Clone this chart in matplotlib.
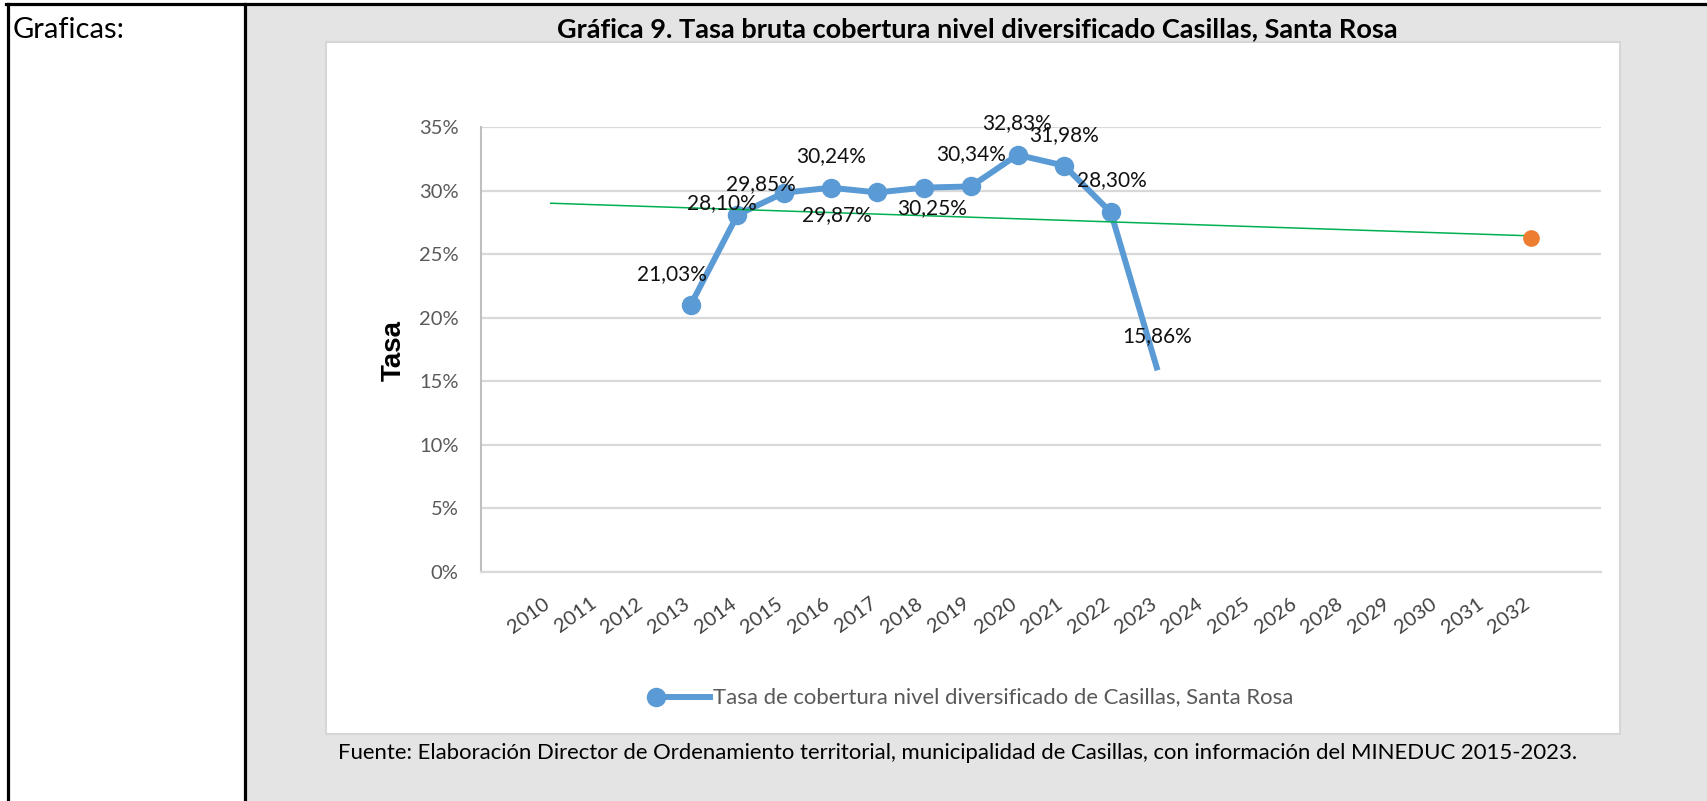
import matplotlib
matplotlib.use('Agg')
import matplotlib.pyplot as plt
import numpy as np
from matplotlib.patches import Rectangle
from matplotlib.lines import Line2D
import matplotlib.transforms as mtransforms

plt.rcParams['font.family'] = ['Lato', 'DejaVu Sans']

# ---------------- data ----------------
years = ['2010', '2011', '2012', '2013', '2014', '2015', '2016', '2017', '2018',
         '2019', '2020', '2021', '2022', '2023', '2024', '2025', '2026', '2028',
         '2029', '2030', '2031', '2032']
rate_years = ['2013', '2014', '2015', '2016', '2017', '2018', '2019', '2020',
              '2021', '2022', '2023']
rate_values = [21.03, 28.10, 29.85, 30.24, 29.87, 30.25, 30.34, 32.83, 31.98,
               28.30, 15.86]
rate_labels = ['21,03%', '28,10%', '29,85%', '30,24%', '29,87%', '30,25%',
               '30,34%', '32,83%', '31,98%', '28,30%', '15,86%']
projection_years = ['2032']
projection_values = [26.3]
trend_years = ['2010', '2032']
trend_values = [29.02, 26.45]
yticks = [0, 5, 10, 15, 20, 25, 30, 35]
ytick_labels = ['0%', '5%', '10%', '15%', '20%', '25%', '30%', '35%']

title = 'Gráfica 9. Tasa bruta cobertura nivel diversificado Casillas, Santa Rosa'
series_name = 'Tasa de cobertura nivel diversificado de Casillas, Santa Rosa'
source = ('Fuente: Elaboración Director de Ordenamiento territorial, municipalidad '
          'de Casillas, con información del MINEDUC 2015-2023.')

# label offsets (pixels) relative to each point
label_offsets = [(-19, 31), (-16, 12), (-23, 9), (0, 32), (-41, -23), (8, -20),
                 (0, 32), (0, 32), (0, 31), (1, 32), (0, 34)]

# ---------------- figure ----------------
W, H = 1707, 801
fig = plt.figure(figsize=(W / 100, H / 100), dpi=100)
fig.patch.set_facecolor('white')


def fx(x):
    return x / W


def fy(y):
    return 1 - y / H


# gray cell background
fig.add_artist(Rectangle((fx(247), 0), 1 - fx(247), fy(6), transform=fig.transFigure,
                         facecolor='#E4E4E4', edgecolor='none', zorder=-3))
# white chart panel
fig.add_artist(Rectangle((fx(326), fy(734)), fx(1620) - fx(326), fy(42) - fy(734),
                         transform=fig.transFigure, facecolor='white',
                         edgecolor='#D6D6D6', linewidth=1.5, zorder=-2))
# table lines
for xs, ys in [([fx(7.5), fx(7.5)], [0, fy(4)]),
               ([fx(245.5), fx(245.5)], [0, fy(4)]),
               ([fx(6), 1], [fy(4), fy(4)])]:
    fig.add_artist(Line2D(xs, ys, color='black', lw=2.3, transform=fig.transFigure,
                          zorder=5))

# ---------------- axes ----------------
ax = fig.add_axes([fx(480.7), fy(571.7), fx(1601) - fx(480.7), fy(127.3) - fy(571.7)])
ax.set_facecolor('none')
ax.set_zorder(1)

xpos = {y: i for i, y in enumerate(years)}
rx = [xpos[y] for y in rate_years]

ax.set_xlim(-1.5, len(years) + 0.5)
ax.set_ylim(0, 35)
ax.set_yticks(yticks)
ax.set_yticklabels(ytick_labels)
ax.yaxis.grid(True, color='#D9D9D9', lw=1.6)
ax.set_axisbelow(True)
for s in ['top', 'right']:
    ax.spines[s].set_visible(False)
ax.spines['left'].set_color('#BFBFBF')
ax.spines['left'].set_linewidth(1.5)
ax.spines['bottom'].set_color('#D9D9D9')
ax.spines['bottom'].set_linewidth(1.6)

ax.tick_params(axis='y', length=0, pad=16, labelsize=14.5, labelcolor='#595959')
ax.set_xticks(range(len(years)))
ax.set_xticklabels(years, rotation=36, ha='right', va='center', rotation_mode='anchor')
ax.tick_params(axis='x', length=0, pad=21.5, labelsize=14.5, labelcolor='#404040')
offset = mtransforms.ScaledTranslation(-3 / 100, 0, fig.dpi_scale_trans)
for lab in ax.get_xticklabels():
    lab.set_transform(lab.get_transform() + offset)

blue = '#5B9BD5'
ax.plot(rx, rate_values, color=blue, lw=4.3, marker='o', ms=13,
        markevery=list(range(len(rate_values) - 1)), solid_capstyle='butt', zorder=3)
ax.plot([xpos[y] for y in trend_years], trend_values, color='#00B050', lw=1.1, zorder=4)
ax.plot([xpos[y] for y in projection_years], projection_values, 'o', color='#ED7D31',
        ms=11, zorder=5)

for x, v, t, (dx, dy) in zip(rx, rate_values, rate_labels, label_offsets):
    ax.annotate(t, (x, v), xytext=(dx, dy), textcoords='offset pixels',
                ha='center', va='center', fontsize=15, color='#111111', zorder=6)

# y label
fig.text(fx(394), fy(350.6), 'Tasa', rotation=90, fontweight='bold', fontsize=20,
         family=['Liberation Sans', 'DejaVu Sans'], ha='center', va='center')

# legend
fig.add_artist(Line2D([fx(656), fx(710)], [fy(696.7), fy(696.7)], color=blue, lw=4.3,
                      transform=fig.transFigure, zorder=3))
fig.add_artist(Line2D([fx(656)], [fy(696.7)], color=blue, marker='o', ms=13,
                      transform=fig.transFigure, zorder=3))
fig.text(fx(713), fy(697), series_name, ha='left', va='center', fontsize=15.9,
         color='#595959')

# title and cell texts
fig.text(fx(977), fy(29.5), title, ha='center', va='center', fontweight='bold',
         fontsize=19.5)
fig.text(fx(13), fy(30), 'Graficas:', ha='left', va='center', fontsize=21)
fig.text(fx(338), fy(753), source, ha='left', va='center', fontsize=15.9)

fig.savefig('out.png', dpi=100, facecolor=fig.get_facecolor())
